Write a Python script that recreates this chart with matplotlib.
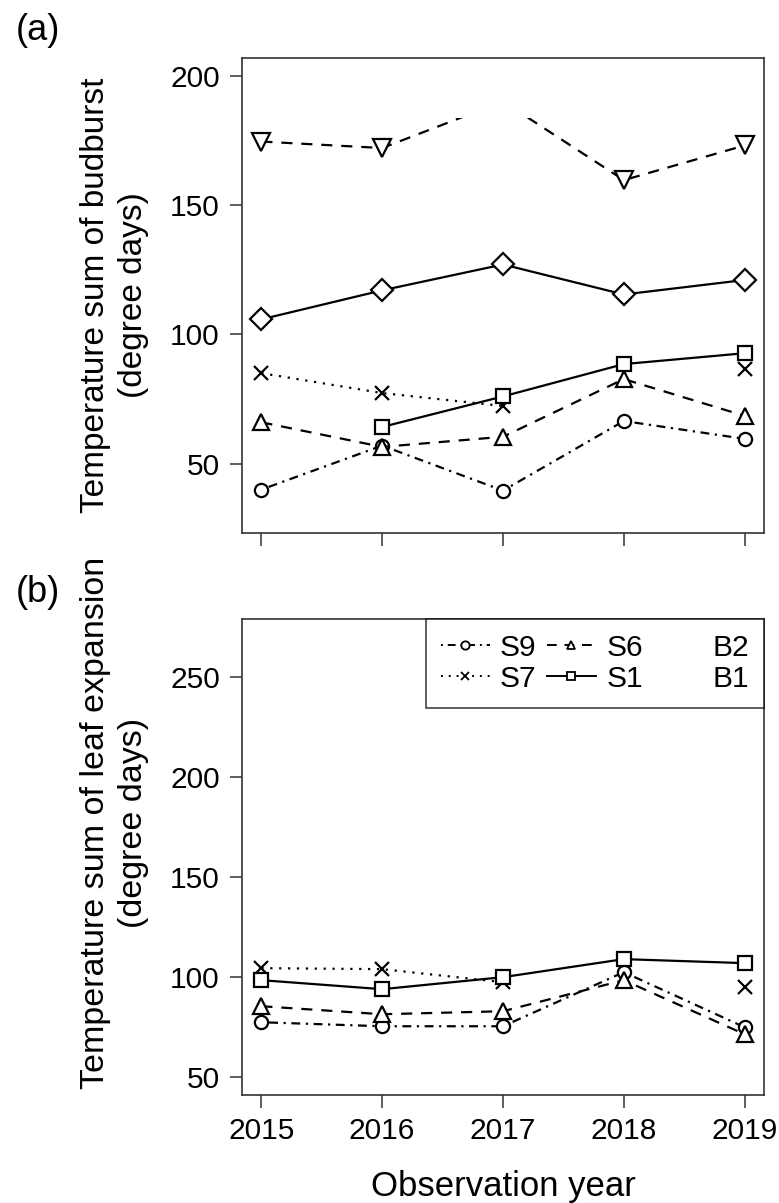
#!/usr/bin/env python
"""
Temperature sums of budburst (a) and leaf expansion (b) per observation year.
"""

import numpy as np
import matplotlib
matplotlib.use("Agg")
import matplotlib.pyplot as plt
from matplotlib.lines import Line2D
from matplotlib.patches import Rectangle

plt.rcParams['font.family'] = ['Liberation Sans', 'DejaVu Sans']

YEARS = [2015, 2016, 2017, 2018, 2019]
SITES = ["S9", "S7", "S6", "S1", "B2", "B1"]

# (a) budburst, degree days
BUD_S9 = [40, 57, 39.6, 66.5, 59.6]
BUD_S7 = [85, 77.3, 72.3, np.nan, 86.5]
BUD_S6 = [66, 56.5, 60.4, 82.7, 68.5]
BUD_S1 = [np.nan, 64.2, 76, 88.5, 92.7]
BUD_B2 = [174.5, 172, 190, 159.6, 173]
BUD_B1 = [105.8, 117, 127, 115.4, 121]

# (b) leaf expansion, degree days
LEAF_S9 = [77.5, 75.5, 75.5, 102.5, 75]
LEAF_S7 = [104.5, 104, 97.5, np.nan, 95]
LEAF_S6 = [85.5, 81.5, 83, 98.5, 71.5]
LEAF_S1 = [98.5, 94, 100, 109, 107]

STYLE = {
    "S9": dict(marker='o', ls=(0, (1, 2.5, 4, 2.5)), ms=9.5),
    "S7": dict(marker='x', ls=(0, (1, 3)), ms=10),
    "S6": dict(marker='^', ls=(0, (5, 4)), ms=12),
    "S1": dict(marker='s', ls='-', ms=10),
    "B2": dict(marker='v', ls=(0, (5, 4)), ms=12.5),
    "B1": dict(marker='D', ls='-', ms=11),
}


def draw_series(ax, name, values, clip_top=None):
    """
    Draws one site as an open-marker line; optionally clips it at clip_top.
    """
    st = STYLE[name]
    line, = ax.plot(YEARS, values, color='black', lw=1.6,
                    linestyle=st["ls"], marker=st["marker"],
                    markersize=st["ms"], markerfacecolor='white',
                    markeredgecolor='black', markeredgewidth=1.6)
    if clip_top is not None:
        rect = Rectangle((2014, 0), 6, clip_top, transform=ax.transData)
        line.set_clip_path(rect)
    return line


def style_axes(ax, ylim, yticks):
    ax.set_xlim(2014.84, 2019.16)
    ax.set_ylim(*ylim)
    ax.set_yticks(yticks)
    ax.set_xticks(YEARS)
    for s in ax.spines.values():
        s.set_color('#333333')
        s.set_linewidth(1.2)
    ax.tick_params(direction='out', length=9, width=1.1, color='#333333',
                   labelsize=21.5, pad=7)


fig = plt.figure(figsize=(7.79, 12.03), dpi=100)

# panel (a)
ax1 = fig.add_axes([0.3107, 0.5569, 0.670, 0.3949])
draw_series(ax1, "B2", BUD_B2, clip_top=183.5)
draw_series(ax1, "B1", BUD_B1)
draw_series(ax1, "S9", BUD_S9)
draw_series(ax1, "S6", BUD_S6)
draw_series(ax1, "S7", BUD_S7)
draw_series(ax1, "S1", BUD_S1)
style_axes(ax1, (23.2, 206.8), [50, 100, 150, 200])
ax1.set_xticklabels([])
ax1.text(-0.245, 0.5, "Temperature sum of budburst\n(degree days)",
         transform=ax1.transAxes, rotation=90, ha='center', va='center',
         fontsize=24, linespacing=1.3, multialignment='center')
fig.text(0.049, 0.975, "(a)", fontsize=26, ha='center', va='center')

# panel (b)
ax2 = fig.add_axes([0.3107, 0.0898, 0.670, 0.3957])
draw_series(ax2, "S9", LEAF_S9)
draw_series(ax2, "S6", LEAF_S6)
draw_series(ax2, "S7", LEAF_S7)
draw_series(ax2, "S1", LEAF_S1)
style_axes(ax2, (41.2, 278.8), [50, 100, 150, 200, 250])
ax2.set_xlabel("Observation year", fontsize=25, labelpad=18)
ax2.text(-0.245, 0.571, "Temperature sum of leaf expansion\n(degree days)",
         transform=ax2.transAxes, rotation=90, ha='center', va='center',
         fontsize=24.5, linespacing=1.3, multialignment='center')
fig.text(0.049, 0.5075, "(b)", fontsize=26, ha='center', va='center')

# legend: B2/B1 symbols are not visible in the source
handles = []
for name in SITES:
    st = STYLE[name]
    visible = name not in ("B2", "B1")
    handles.append(Line2D([], [], color='black', lw=1.4, linestyle=st["ls"],
                          marker=st["marker"], markersize=6,
                          markerfacecolor='white', markeredgecolor='black',
                          markeredgewidth=1.3, visible=visible))
leg = ax2.legend(handles, SITES, ncol=3, loc='upper right', fontsize=21.5,
                 frameon=True, fancybox=False, borderaxespad=0,
                 handlelength=1.65, handletextpad=0.34, columnspacing=0.34,
                 labelspacing=0.1, borderpad=0.5)
leg.get_frame().set_edgecolor('black')
leg.get_frame().set_linewidth(1.1)

plt.savefig("out.png", dpi=100)
